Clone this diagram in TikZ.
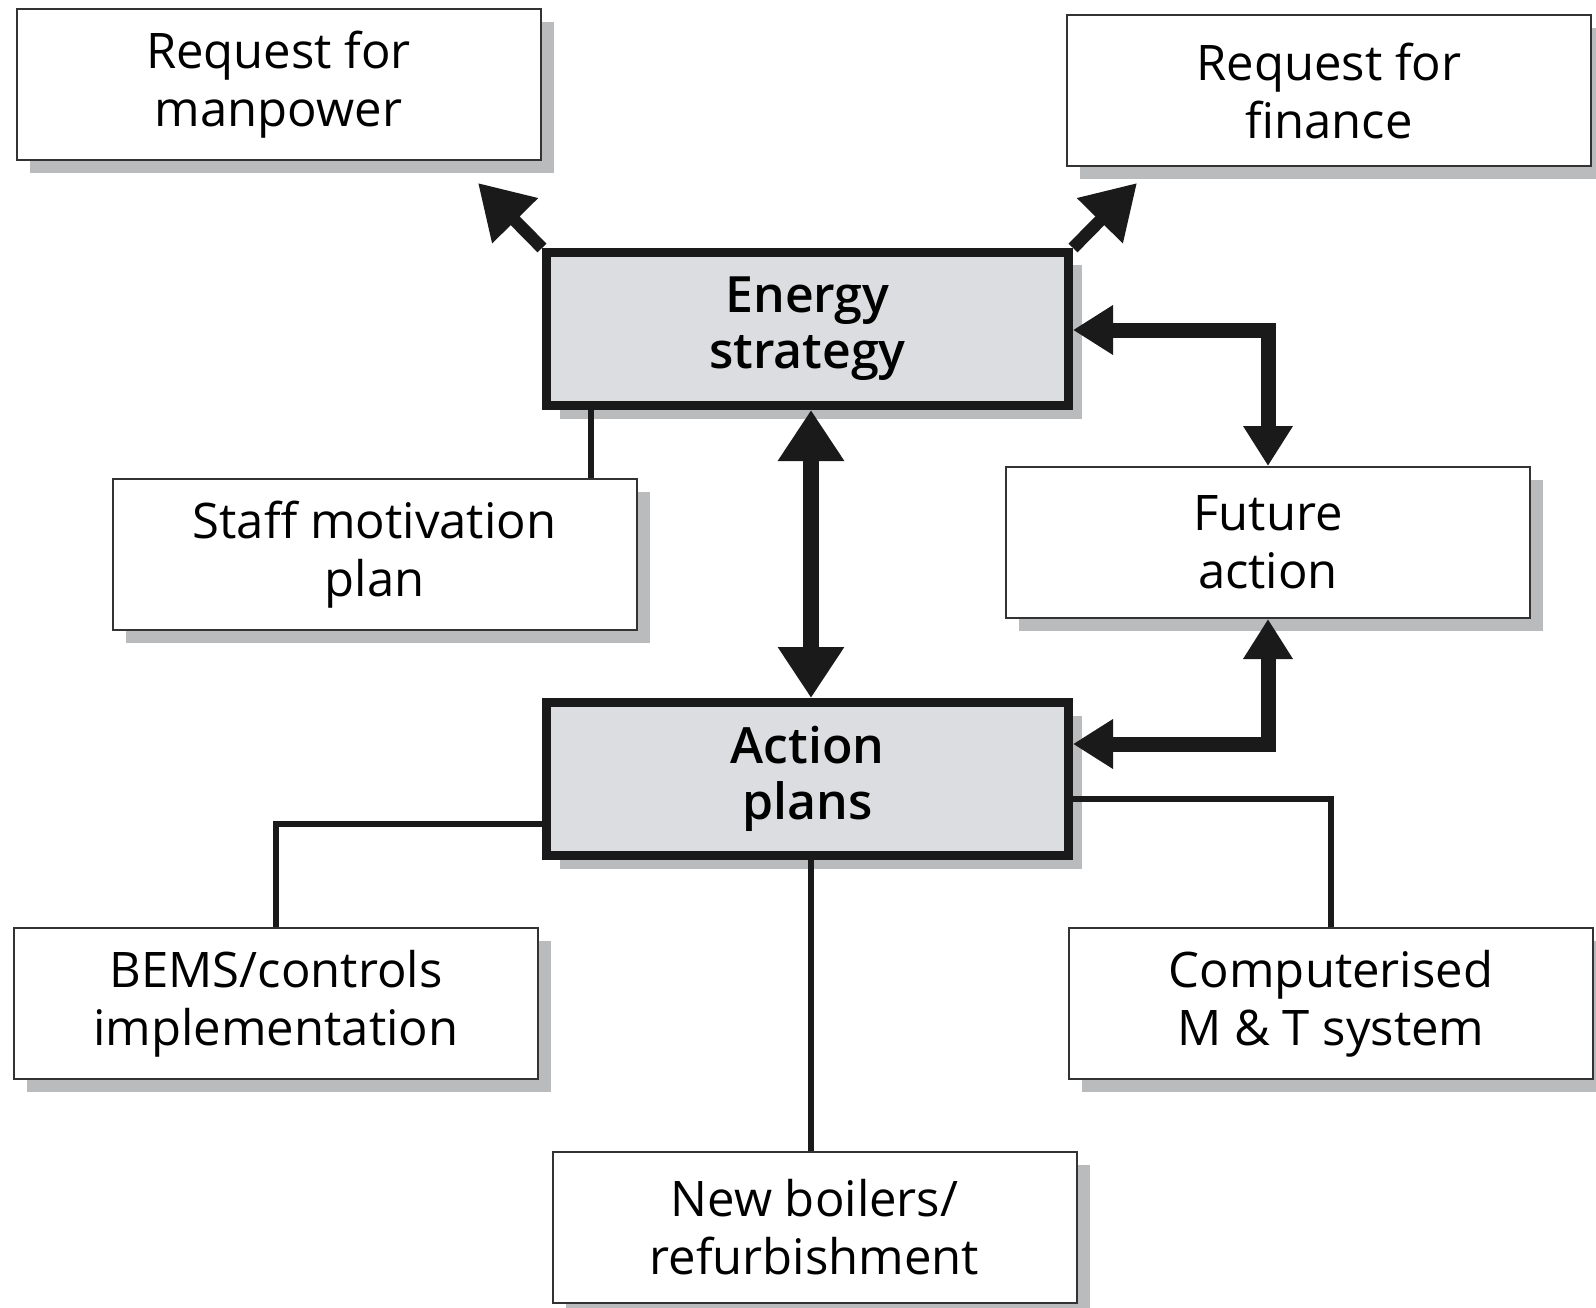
\documentclass[tikz,border=0pt]{standalone}
\usepackage{fontspec}
\setmainfont{Open Sans}
\IfFontExistsTF{Open Sans SemiBold}{\newfontfamily\semib{Open Sans SemiBold}}{%
  \IfFontExistsTF{Open Sans Semibold}{\newfontfamily\semib{Open Sans Semibold}}{%
    \newfontfamily\semib[FakeBold=2]{Open Sans}}}
\usetikzlibrary{arrows.meta,shadows}
\definecolor{boxfill}{HTML}{DCDDE0}
\definecolor{shadowgray}{HTML}{BABBBD}
\definecolor{ink}{HTML}{1A1A1A}
\definecolor{thinink}{HTML}{333333}
\tikzset{
  plainbox/.style={draw=thinink, line width=2pt, fill=white, minimum width=524pt, minimum height=151pt,
    inner sep=0pt, align=center, font=\fontsize{49}{58}\selectfont,
    drop shadow={shadow xshift=13pt, shadow yshift=-13pt, fill=shadowgray, opacity=1}},
  keybox/.style={draw=ink, line width=9pt, fill=boxfill, minimum width=522pt, minimum height=153pt,
    inner sep=0pt, align=center, font=\semib\fontsize{50}{56}\selectfont,
    drop shadow={shadow xshift=13pt, shadow yshift=-13pt, fill=shadowgray, opacity=1}},
  bigdouble/.style={draw=ink, line width=16pt, {Triangle[length=51pt,width=63pt]}-{Triangle[length=51pt,width=63pt]}},
  fadouble/.style={draw=ink, line width=15pt, {Triangle[length=40pt,width=47pt]}-{Triangle[length=40pt,width=47pt]}},
  diagarrow/.style={draw=ink, line width=12.5pt, -{Triangle[length=53pt,width=61pt]}},
  linkline/.style={draw=ink, line width=6pt},
}
\begin{document}
\begin{tikzpicture}[x=1pt,y=-1pt]
\useasboundingbox (0,0) rectangle (1596,1308);
% nodes
\node[plainbox] (rm) at (278.5,84.5) {Request for\\manpower};
\node[plainbox] (rf) at (1329,90.5) {Request for\\finance};
\node[keybox] (es) at (807.5,329) {Energy\\strategy};
\node[plainbox] (sm) at (374.5,554.5) {Staff motivation\\plan};
\node[plainbox] (fa) at (1268,542.5) {Future\\action};
\node[keybox] (ap) at (807.5,779) {Action\\plans};
\node[plainbox] (be) at (276,1003.5) {BEMS/controls\\implementation};
\node[plainbox] (ct) at (1331,1003.5) {Computerised\\M \& T system};
\node[plainbox] (nb) at (814.5,1227) {New boilers/\\refurbishment};
% free ends and bends
\coordinate (tlTip) at (478,183);
\coordinate (trTip) at (1137,183);
\coordinate (bendA) at (1268,330);
\coordinate (bendB) at (1268,744);
\coordinate (bendC) at (276,824);
\coordinate (bendD) at (1331,799);
\coordinate (smx) at (590.5,0);
\coordinate (midx) at (811,0);
% diagonal arrows
\draw[diagarrow] (es.north west) -- (tlTip);
\draw[diagarrow] (es.north east) -- (trTip);
% vertical double arrow
\draw[bigdouble] (es.south -| midx) -- (ap.north -| midx);
% future action links
\draw[fadouble] (es.east |- bendA) -- (bendA) -- (fa.north);
\draw[fadouble] (ap.east |- bendB) -- (bendB) -- (fa.south);
% thin links
\draw[linkline] (es.south -| smx) -- (sm.north -| smx);
\draw[linkline] (ap.west |- bendC) -- (bendC) -- (be.north);
\draw[linkline] (ap.south -| midx) -- (nb.north -| midx);
\draw[linkline] (ap.east |- bendD) -- (bendD) -- (ct.north);
\end{tikzpicture}
\end{document}
